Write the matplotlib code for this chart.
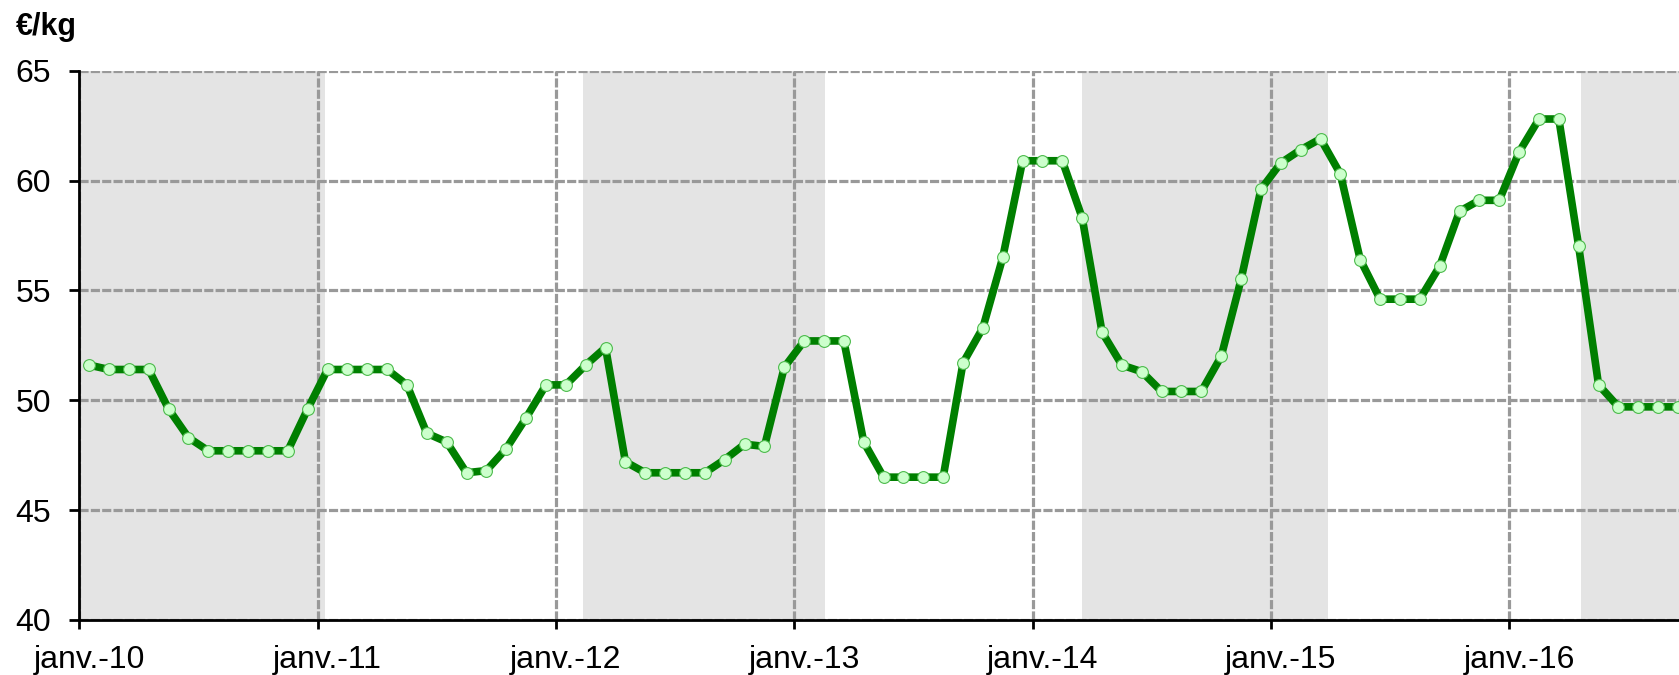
"""Prix mensuel en €/kg, janv. 2010 - sept. 2016"""
import matplotlib.pyplot as plt

# valeurs mensuelles, de janv.-10 à sept.-16
prix = [51.6, 51.4, 51.4, 51.4, 49.6, 48.3, 47.7, 47.7, 47.7, 47.7, 47.7, 49.6,
        51.4, 51.4, 51.4, 51.4, 50.7, 48.5, 48.1, 46.7, 46.8, 47.8, 49.2, 50.7,
        50.7, 51.6, 52.4, 47.2, 46.7, 46.7, 46.7, 46.7, 47.3, 48.0, 47.9, 51.5,
        52.7, 52.7, 52.7, 48.1, 46.5, 46.5, 46.5, 46.5, 51.7, 53.3, 56.5, 60.9,
        60.9, 60.9, 58.3, 53.1, 51.6, 51.3, 50.4, 50.4, 50.4, 52.0, 55.5, 59.6,
        60.8, 61.4, 61.9, 60.3, 56.4, 54.6, 54.6, 54.6, 56.1, 58.6, 59.1, 59.1,
        61.3, 62.8, 62.8, 57.0, 50.7, 49.7, 49.7, 49.7, 49.7]
annees = ["janv.-10", "janv.-11", "janv.-12", "janv.-13",
          "janv.-14", "janv.-15", "janv.-16"]
# périodes grisées (en mois depuis janv.-10)
bandes = [(0, 12.37), (25.35, 37.55), (50.49, 62.86), (75.6, 81)]

plt.rcParams['font.family'] = ['Liberation Sans', 'DejaVu Sans']

fig = plt.figure(figsize=(16.79, 6.75), dpi=100)
ax = fig.add_axes([0.0472, 0.0815, 0.9528, 0.8138])

for debut, fin in bandes:
    ax.axvspan(debut, fin, color='#e4e4e4', lw=0, zorder=0)

mois = [i + 0.5 for i in range(len(prix))]
ax.plot(mois, prix, color='#007f00', lw=5.5, marker='o', ms=8.5,
        mfc='#ccffcc', mec='#4cbb4c', mew=0.8, zorder=3)

ax.set_xlim(0, 80.55)
ax.set_ylim(40, 65)
ax.set_yticks(range(40, 66, 5))

# étiquettes centrées sur janvier, graduations entre les mois
ax.set_xticks([12 * k + 0.5 for k in range(len(annees))])
ax.set_xticklabels(annees)
ax.set_xticks([12 * k for k in range(len(annees))], minor=True)
ax.tick_params(axis='x', which='major', length=0, pad=18, labelsize=23)
ax.tick_params(axis='x', which='minor', length=6.5, width=2, direction='out')
ax.tick_params(axis='y', length=7.2, width=2, pad=13, labelsize=23)

grille = dict(color='#999999', ls=(0, (2.85, 0.7)), lw=2.3, zorder=1)
ax.grid(True, axis='y', which='major', **grille)
ax.grid(True, axis='x', which='minor', **grille)
ax.set_axisbelow(True)

for side in ['top', 'right']:
    ax.spines[side].set_visible(False)
for side in ['left', 'bottom']:
    ax.spines[side].set_linewidth(2)
    ax.spines[side].set_zorder(4)

fig.text(0.0095, 0.948, "€/kg", fontsize=22, fontweight='bold', va='baseline')

fig.savefig("out.png", dpi=100)
